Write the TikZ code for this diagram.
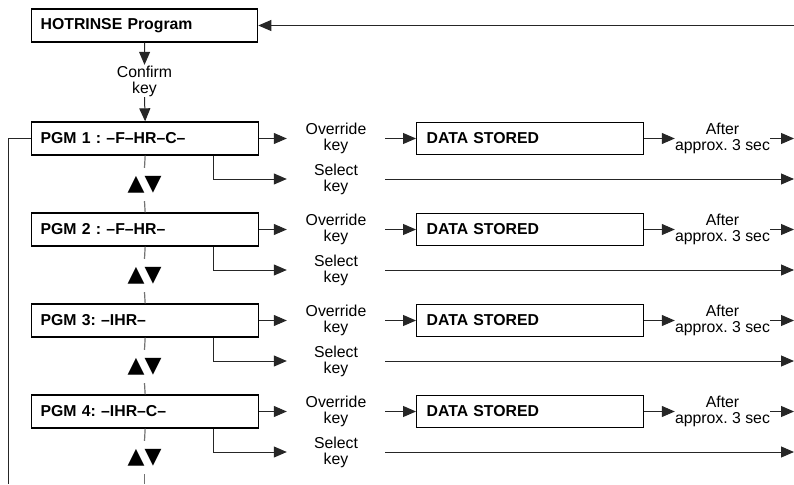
\documentclass[tikz,border=0pt]{standalone}
\usepackage{fontspec}
\setmainfont{Liberation Sans}
\newfontfamily\symfont{DejaVu Sans}
\usetikzlibrary{arrows.meta}
\frenchspacing
\begin{document}
\begin{tikzpicture}[x=1pt,y=-1pt,
  prog/.style={draw,line width=1.3pt,anchor=west,minimum height=33pt,
    text width=209pt,inner xsep=9pt,inner ysep=0pt,align=left,
    font=\fontsize{15.8}{16}\selectfont\bfseries\frenchspacing},
  dbox/.style={draw,line width=1.3pt,anchor=west,minimum height=32pt,
    text width=207pt,inner xsep=10pt,inner ysep=0pt,align=left,
    font=\fontsize{15.8}{16}\selectfont\bfseries},
  lbl/.style={inner sep=0pt,align=center,minimum width=98pt,
    font=\fontsize{15.8}{16}\selectfont},
  albl/.style={inner sep=0pt,align=center,minimum width=95pt,
    font=\fontsize{15.8}{16}\selectfont\frenchspacing},
  ud/.style={inner sep=0pt,minimum height=33pt,
    font=\symfont\fontsize{22}{22}\selectfont},
  conn/.style={line width=1pt,draw=black!85},
  arr/.style={conn,-{Triangle[length=13pt,width=11pt]}},
  vline/.style={line width=1.2pt,draw=black!55}]
\useasboundingbox (0,0) rectangle (794,484);

\node[prog,text width=208pt] (hot) at (31,25.5) {HOTRINSE Program};
\coordinate (topr) at (794,25.5);
\draw[arr] (topr) -- (hot.east);
\node[lbl,minimum height=32pt] (conf) at (144.5,81) {Confirm\\key};
\draw[arr] (hot.south) -- (conf.north);

\foreach \i/\t in {1/{PGM 1 : –F–HR–C–},2/{PGM 2 : –F–HR–},3/{PGM 3: –IHR–},4/{PGM 4: –IHR–C–}}{
  \pgfmathsetmacro{\yb}{138.5+91*(\i-1)}
  \node[prog] (p\i) at (31,\yb) {\t};
  \node[lbl] (ov\i) at (336,\yb) {Override\\key};
  \node[dbox] (d\i) at (416,\yb) {DATA STORED};
  \node[albl] (af\i) at (722.5,\yb) {After\\approx. 3 sec};
  \coordinate (ar\i) at (794,\yb);
  \draw[arr] (p\i.east) -- (ov\i.west);
  \draw[arr] (ov\i.east) -- (d\i.west);
  \draw[arr] (d\i.east) -- (af\i.west);
  \draw[arr] (af\i.east) -- (ar\i);
  \pgfmathsetmacro{\ys}{179+91*(\i-1)}
  \node[lbl] (se\i) at (336,\ys) {Select\\key};
  \coordinate (sr\i) at (794,\ys);
  \draw[arr] ([xshift=68pt]p\i.south) |- (se\i.west);
  \draw[arr] (se\i.east) -- (sr\i);
  \pgfmathsetmacro{\yu}{184.5+91*(\i-1)}
  \node[ud] (ud\i) at (144.5,\yu) {▲▼};
  \draw[vline] (p\i.south) -- (ud\i.north);
}
\draw[arr] (conf.south) -- (p1.north);
\draw[vline] (ud1.south) -- (p2.north);
\draw[vline] (ud2.south) -- (p3.north);
\draw[vline] (ud3.south) -- (p4.north);
\coordinate (bot) at (144.5,484);
\draw[vline] (ud4.south) -- (bot);
\coordinate (lb) at (8,484);
\draw[conn] (p1.west) -| (lb);
\end{tikzpicture}
\end{document}
